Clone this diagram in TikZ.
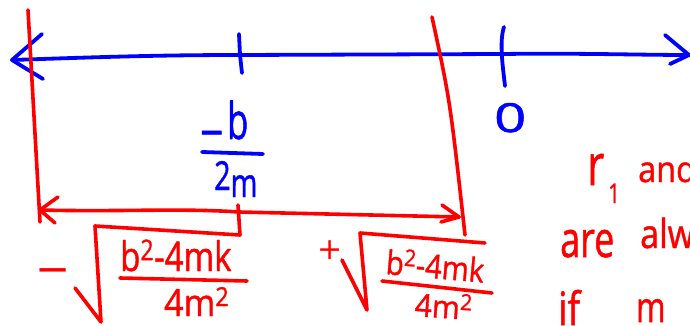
\documentclass[tikz,border=0pt]{standalone}
\usepackage{graphicx}
\usepackage{fontspec}
\setmainfont{Open Sans}[FakeBold=1.2]
\newfontfamily\signfont{DejaVu Sans}
\definecolor{hred}{RGB}{255,0,0}
\definecolor{hblue}{RGB}{0,0,255}
\newcommand{\hsz}[1]{\fontsize{#1}{#1}\selectfont}
\begin{document}
\begin{tikzpicture}[x=1pt,y=-1pt,line cap=round,line join=round,
  bstroke/.style={draw=hblue,line width=3.8pt},
  rstroke/.style={draw=hred,line width=3.6pt},
  btxt/.style={text=hblue,inner sep=0pt,anchor=base west},
  rtxt/.style={text=hred,inner sep=0pt,anchor=base west}]
\useasboundingbox (0,0) rectangle (690,326);
% blue number line
\coordinate (axL) at (12,60);
\coordinate (axR) at (689,55);
\coordinate (tkA) at (240,55);
\coordinate (tkB) at (502,54);
\draw[bstroke] (axL) .. controls (100,57) and (160,55) .. (tkA) -- (tkB) .. controls (580,53) and (640,55) .. (axR);
\draw[bstroke] (42,34) -- (axL) -- (43,79);
\draw[bstroke] (665,35) -- (axR) -- (670,64);
\draw[bstroke] (239,34) -- (tkA) -- (242,73);
\draw[bstroke] (504,27) .. controls (499,42) and (503,68) .. (505,86);
% blue labels
\node[btxt,font=\hsz{46}] (negb) at (200,139) {\raisebox{-6pt}{–}\hspace{4pt}\scalebox{0.75}[1.1]{b}};
\coordinate (barA1) at (202,152);
\coordinate (barA2) at (263,154);
\draw[bstroke] (barA1) -- (barA2);
\node[btxt,font=\hsz{40}] (twom) at (214,190) {\scalebox{0.72}[1]{2\raisebox{-7pt}{m}}};
\node[btxt,font=\hsz{40}] (zero) at (494,132) {\scalebox{1.4}[1]{0}};
% red verticals
\coordinate (vL1) at (28,10);
\coordinate (vL2) at (40,222);
\coordinate (vR1) at (432,17);
\coordinate (vR2) at (465,235);
\draw[rstroke] (vL1) -- (vL2);
\draw[rstroke] (vR1) .. controls (450,100) .. (vR2);
% red double arrow
\coordinate (arL) at (40,210);
\coordinate (arM) at (239,212);
\coordinate (arR) at (459,217);
\draw[rstroke] (arL) .. controls (120,212) and (180,208) .. (arM) -- (arR);
\draw[rstroke] (58,197) -- (arL) -- (55,223);
\draw[rstroke] (442,205) -- (arR) -- (441,222);
% left radical
\coordinate (rLtop) at (95,226);
\coordinate (rLbot) at (101,322);
\draw[rstroke] (238,205) -- (240,235) -- (rLtop) -- (rLbot) -- (75,288);
% right radical
\coordinate (rRtop) at (360,233);
\coordinate (rRbot) at (367,310);
\draw[rstroke] (485,243) -- (rRtop) -- (rRbot) -- (342,260);
% signs
\node[rtxt,font=\signfont\fontsize{42}{42}\selectfont] (minL) at (35,283) {−};
\node[rtxt,font=\signfont\fontsize{30}{30}\selectfont] (plusR) at (317,259) {+};
% left fraction
\node[rtxt,font=\hsz{34}] (numL) at (120,271) {\scalebox{0.97}[1.2]{b\textsuperscript{2}-4mk}};
\draw[rstroke] (120,278) -- (247,281);
\node[rtxt,font=\hsz{34}] (denL) at (164,316) {\scalebox{1}[1.1]{4m\textsuperscript{2}}};
% right fraction
\node[rtxt,font=\hsz{30},rotate=-5] (numR) at (385,274) {\scalebox{0.97}[1.1]{b\textsuperscript{2}-4mk}};
\draw[rstroke] (382,281) -- (492,293);
\node[rtxt,font=\hsz{30},rotate=-4] (denR) at (414,316) {\scalebox{1}[1.05]{4m\textsuperscript{2}}};
% right notes
\node[rtxt,font=\hsz{52}] (rr) at (587,185) {\scalebox{0.8}[1.1]{r}};
\node[rtxt,font=\hsz{26}] (one) at (608,203) {\scalebox{0.8}[1.05]{1}};
\node[rtxt,font=\hsz{36}] (and) at (638,182) {\scalebox{0.9}[1]{and}};
\node[rtxt,font=\hsz{50}] (are) at (560,257) {\scalebox{0.72}[1]{are}};
\node[rtxt,font=\hsz{40}] (alw) at (640,248) {\scalebox{0.85}[1]{alw}};
\node[rtxt,font=\hsz{46}] (iff) at (558,325) {\scalebox{0.8}[1]{if}};
\node[rtxt,font=\hsz{42}] (mm) at (636,322) {\scalebox{0.75}[1]{m}};
\end{tikzpicture}
\end{document}
